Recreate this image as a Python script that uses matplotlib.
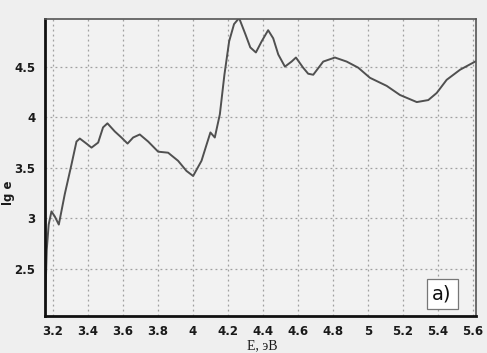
import numpy as np
import matplotlib
matplotlib.use("Agg")
import matplotlib.pyplot as plt

# energy (eV) and lg e
energy = [3.153, 3.164, 3.175, 3.191, 3.21, 3.233, 3.267, 3.305, 3.334, 3.353,
          3.391, 3.42, 3.458, 3.486, 3.511, 3.553, 3.591, 3.626, 3.658, 3.696,
          3.744, 3.801, 3.858, 3.915, 3.963, 4.001, 4.049, 4.078, 4.10, 4.125,
          4.154, 4.18, 4.207, 4.235, 4.264, 4.30, 4.328, 4.36, 4.393, 4.43,
          4.459, 4.488, 4.526, 4.564, 4.589, 4.63, 4.659, 4.688, 4.745, 4.812,
          4.879, 4.945, 5.012, 5.108, 5.184, 5.28, 5.346, 5.394, 5.451, 5.528,
          5.614]
lg_e = [2.04, 2.69, 2.94, 3.07, 3.02, 2.94, 3.24, 3.53, 3.76, 3.79,
        3.74, 3.70, 3.75, 3.90, 3.94, 3.86, 3.80, 3.74, 3.80, 3.83,
        3.76, 3.66, 3.65, 3.57, 3.47, 3.42, 3.57, 3.73, 3.85, 3.80,
        4.03, 4.42, 4.75, 4.92, 4.98, 4.82, 4.69, 4.64, 4.75, 4.86,
        4.78, 4.62, 4.50, 4.55, 4.59, 4.49, 4.43, 4.42, 4.55, 4.59,
        4.55, 4.49, 4.39, 4.31, 4.22, 4.15, 4.17, 4.24, 4.37, 4.47,
        4.55]

x_ticks = [3.2, 3.4, 3.6, 3.8, 4.0, 4.2, 4.4, 4.6, 4.8, 5.0, 5.2, 5.4, 5.6]
x_labels = ["3.2", "3.4", "3.6", "3.8", "4", "4.2", "4.4", "4.6", "4.8", "5", "5.2", "5.4", "5.6"]
y_ticks = [2.5, 3.0, 3.5, 4.0, 4.5]
y_labels = ["2.5", "3", "3.5", "4", "4.5"]

bg = "#efefef"
fig = plt.figure(figsize=(4.87, 3.53), dpi=100, facecolor=bg)
ax = fig.add_axes([0.0924, 0.1057, 0.8844, 0.8403])
ax.set_facecolor("#f2f2f2")

ax.plot(energy, lg_e, color="#505050", lw=1.4, solid_joinstyle="round")

ax.set_xlim(3.154, 5.617)
ax.set_ylim(2.04, 4.97)
ax.set_xticks(x_ticks)
ax.set_xticklabels(x_labels)
ax.set_yticks(y_ticks)
ax.set_yticklabels(y_labels)
ax.tick_params(length=0, labelsize=8.5, pad=7)
for lab in ax.get_xticklabels() + ax.get_yticklabels():
    lab.set_fontweight("bold")
    lab.set_color("#1a1a1a")

ax.grid(True, color="#a0a0a0", lw=0.9, ls=(0, (1.5, 2.5)))

ax.spines["left"].set_linewidth(2)
ax.spines["bottom"].set_linewidth(2)
ax.spines["left"].set_color("#111111")
ax.spines["bottom"].set_color("#111111")
ax.spines["top"].set_linewidth(1.2)
ax.spines["right"].set_linewidth(1.2)
ax.spines["top"].set_color("#555555")
ax.spines["right"].set_color("#555555")

fig.text(0.017, 0.455, "lg e", rotation=90, fontsize=8.5, fontweight="bold",
         color="#1a1a1a", ha="center", va="center")
fig.text(0.538, 0.022, "E, эВ", fontsize=10, family="Liberation Serif",
         color="#1a1a1a", ha="center", va="center")

ax.text(0.922, 0.073, "a)", transform=ax.transAxes, fontsize=14,
        ha="center", va="center", color="#111111",
        bbox=dict(boxstyle="square,pad=0.3", fc="white", ec="#777777", lw=0.9))

fig.savefig("out.png", dpi=100, facecolor=bg)
